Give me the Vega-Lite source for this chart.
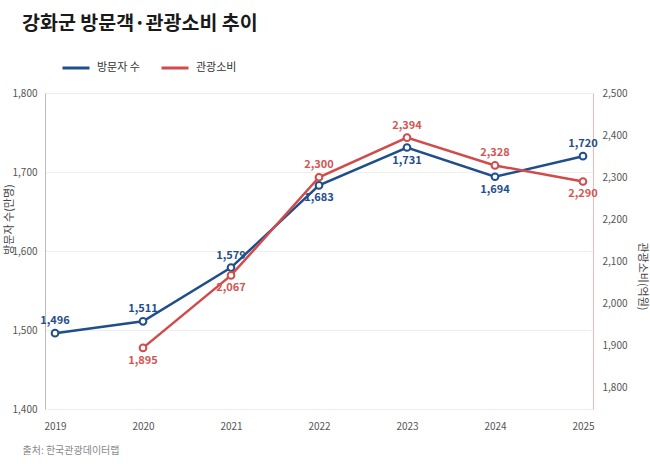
{
  "$schema": "https://vega.github.io/schema/vega-lite/v6.json",
  "description": "강화군 방문객·관광소비 추이",
  "autosize": "none",
  "width": 548,
  "height": 316,
  "padding": {"left": 45, "top": 93, "right": 57, "bottom": 55},
  "background": "#ffffff",
  "title": {
    "text": "강화군 방문객·관광소비 추이",
    "anchor": "start",
    "frame": "group",
    "dx": -23,
    "offset": 19,
    "fontSize": 19.5,
    "fontWeight": "bold",
    "font": "Noto Sans CJK KR",
    "color": "#1a1a1a"
  },
  "data": {
    "values": [
      {"year": "2019", "visitors": 1496, "spending": null},
      {"year": "2020", "visitors": 1511, "spending": 1895},
      {"year": "2021", "visitors": 1579, "spending": 2067},
      {"year": "2022", "visitors": 1683, "spending": 2300},
      {"year": "2023", "visitors": 1731, "spending": 2394},
      {"year": "2024", "visitors": 1694, "spending": 2328},
      {"year": "2025", "visitors": 1720, "spending": 2290}
    ]
  },
  "encoding": {
    "x": {
      "field": "year",
      "type": "ordinal",
      "scale": {"type": "point", "padding": 0.114},
      "axis": {
        "title": "출처: 한국관광데이터랩",
        "titleAnchor": "start",
        "titleAlign": "left",
        "titleBaseline": "middle",
        "titleX": -23,
        "titleY": 41,
        "titleFontSize": 10,
        "titleFontWeight": "normal",
        "titleColor": "#888888",
        "labelAngle": 0,
        "labelPadding": 12,
        "labelFontSize": 10,
        "labelColor": "#555555",
        "ticks": false,
        "domain": false,
        "grid": false
      }
    },
    "color": {
      "datum": "방문자 수",
      "type": "nominal",
      "scale": {"domain": ["방문자 수", "관광소비"], "range": ["#1f4e8c", "#d14b4b"]},
      "legend": {
        "title": null,
        "orient": "none",
        "direction": "horizontal",
        "legendX": 16,
        "legendY": -40,
        "symbolType": "stroke",
        "symbolSize": 729,
        "symbolStrokeWidth": 3,
        "labelFontSize": 11,
        "labelColor": "#333333",
        "labelOffset": 6,
        "columnPadding": 15
      }
    }
  },
  "layer": [
    {
      "encoding": {
        "y": {
          "field": "visitors",
          "type": "quantitative",
          "scale": {"domain": [1400, 1800], "zero": false, "nice": false},
          "axis": {
            "orient": "left",
            "title": "방문자 수(만명)",
            "titleX": -36,
            "titleY": 126,
            "titleBaseline": "middle",
            "titleFontSize": 11,
            "titleFontWeight": "normal",
            "titleColor": "#444444",
            "values": [1400, 1500, 1600, 1700, 1800],
            "ticks": false,
            "labelPadding": 8,
            "labelFontSize": 10,
            "labelColor": "#555555",
            "domainColor": "#bbbbbb",
            "grid": true,
            "gridColor": "#eeeeee"
          }
        }
      },
      "layer": [
        {"mark": {"type": "line", "strokeWidth": 2.5, "color": "#1f4e8c"}},
        {"mark": {"type": "point", "shape": "circle", "size": 45, "filled": false, "fill": "#ffffff", "fillOpacity": 1, "strokeWidth": 2, "opacity": 1, "color": "#1f4e8c"}},
        {
          "transform": [{"filter": "datum.year < '2022' || datum.year == '2025'"}],
          "mark": {"type": "text", "dy": -12, "fontSize": 11, "fontWeight": "bold", "color": "#1f4e8c"},
          "encoding": {"text": {"field": "visitors", "type": "quantitative", "format": ","}, "color": {"value": "#1f4e8c"}}
        },
        {
          "transform": [{"filter": "datum.year >= '2022' && datum.year <= '2024'"}],
          "mark": {"type": "text", "dy": 13, "fontSize": 11, "fontWeight": "bold", "color": "#1f4e8c"},
          "encoding": {"text": {"field": "visitors", "type": "quantitative", "format": ","}, "color": {"value": "#1f4e8c"}}
        }
      ]
    },
    {
      "encoding": {
        "y": {
          "field": "spending",
          "type": "quantitative",
          "scale": {"domain": [1750, 2500], "zero": false, "nice": false},
          "axis": {
            "orient": "right",
            "title": "관광소비(억원)",
            "titleAngle": 90,
            "titleX": 48,
            "titleY": 183,
            "titleBaseline": "middle",
            "titleFontSize": 11,
            "titleFontWeight": "normal",
            "titleColor": "#444444",
            "values": [1800, 1900, 2000, 2100, 2200, 2300, 2400, 2500],
            "ticks": false,
            "labelPadding": 9,
            "labelFontSize": 10,
            "labelColor": "#555555",
            "domainColor": "#f0b8b8",
            "grid": false
          }
        },
        "color": {"datum": "관광소비", "type": "nominal"}
      },
      "layer": [
        {"mark": {"type": "line", "strokeWidth": 2.5}},
        {"mark": {"type": "point", "shape": "circle", "size": 45, "filled": false, "fill": "#ffffff", "fillOpacity": 1, "strokeWidth": 2, "opacity": 1}},
        {
          "transform": [{"filter": "datum.spending != null && (datum.year < '2022' || datum.year == '2025')"}],
          "mark": {"type": "text", "dy": 13, "fontSize": 11, "fontWeight": "bold"},
          "encoding": {"text": {"field": "spending", "type": "quantitative", "format": ","}, "color": {"value": "#d35555"}}
        },
        {
          "transform": [{"filter": "datum.year >= '2022' && datum.year <= '2024'"}],
          "mark": {"type": "text", "dy": -12, "fontSize": 11, "fontWeight": "bold"},
          "encoding": {"text": {"field": "spending", "type": "quantitative", "format": ","}, "color": {"value": "#d35555"}}
        }
      ]
    }
  ],
  "resolve": {"scale": {"y": "independent"}},
  "config": {
    "font": "Noto Sans CJK KR",
    "view": {"stroke": null}
  }
}
